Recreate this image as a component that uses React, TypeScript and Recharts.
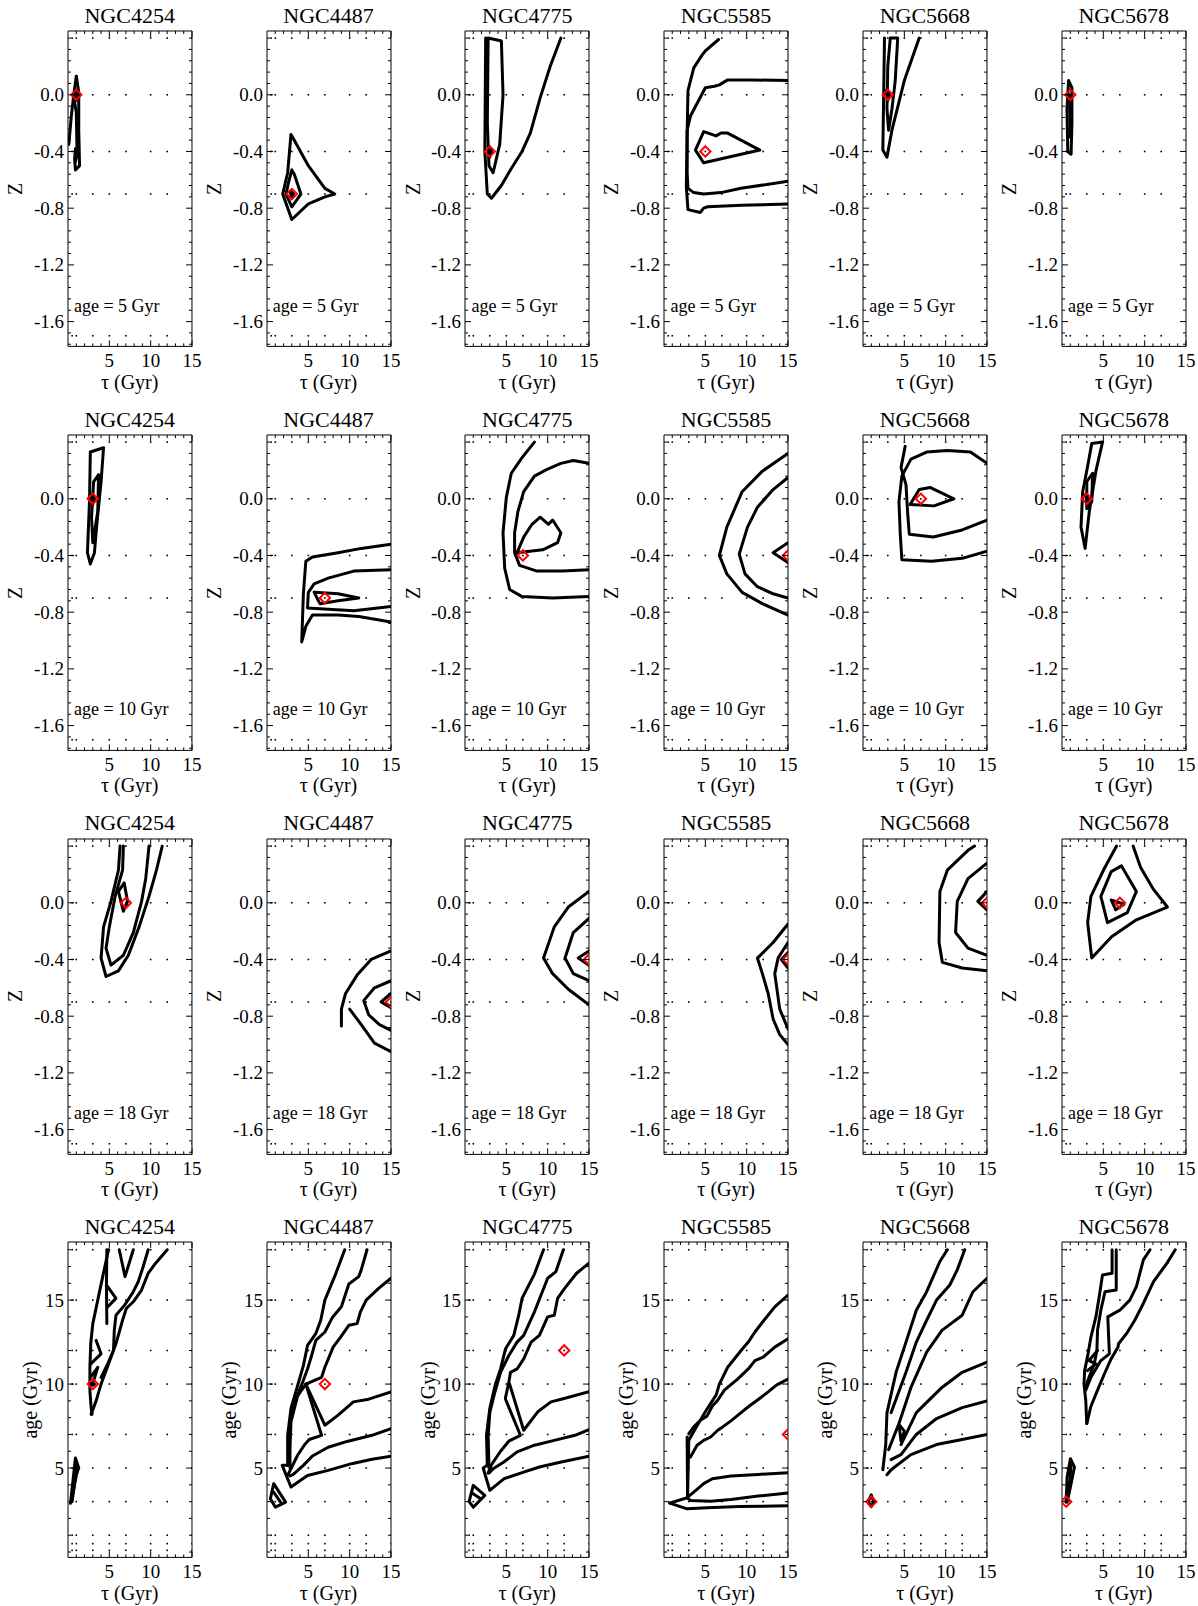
import React from 'react';
import { ScatterChart, Scatter, XAxis, YAxis } from 'recharts';

type Pt = [number, number];

const galaxies = ['NGC4254', 'NGC4487', 'NGC4775', 'NGC5585', 'NGC5668', 'NGC5678'];
const sliceNotes = ['age = 5 Gyr', 'age = 10 Gyr', 'age = 18 Gyr'];

// axis ticks
const tauTicks = [5, 10, 15];
const tauMinor = [1, 2, 3, 4, 6, 7, 8, 9, 11, 12, 13, 14];
const zTicks = [-1.6, -1.2, -0.8, -0.4, 0.0];
const zMinor = [0.4, 0.32, 0.24, 0.16, 0.08, -0.08, -0.16, -0.24, -0.32, -0.48, -0.56, -0.64, -0.72, -0.88, -0.96, -1.04, -1.12, -1.28, -1.36, -1.44, -1.52, -1.68, -1.76];
const ageTicks = [5, 10, 15];
const ageMinor = [0, 1, 2, 3, 4, 6, 7, 8, 9, 11, 12, 13, 14, 16, 17, 18];

// model grid (dotted points)
const tauGrid = [0.5, 1, 3, 5, 7, 10, 12, 15];
const zGrid = [0.4, 0.0, -0.4, -0.7, -1.7];
const ageGrid = [0.1, 0.5, 1, 3, 5, 7, 10, 12, 15, 18];

// best fits (tau, Z) per slice and (tau, age) for the bottom row
const best5: Pt[] = [[1, 0], [3, -0.7], [3, -0.4], [5, -0.4], [3, 0], [1, 0]];
const best10: Pt[] = [[3, 0], [7, -0.7], [7, -0.4], [15, -0.4], [7, 0], [3, 0]];
const best18: Pt[] = [[7, 0], [15, -0.7], [15, -0.4], [15, -0.4], [15, 0], [7, 0]];
const bestAge: Pt[] = [[3, 10], [7, 10], [12, 12], [15, 7], [1, 3], [0.5, 3]];

// ---- age = 5 Gyr contours (tau, Z)
const z5_4254: Pt[][] = [
  [[1.0, 0.13], [1.3, 0.02], [1.3, -0.25], [1.4, -0.5], [0.9, -0.53], [0.8, -0.45], [0.9, -0.38]],
  [[0.1, -0.35], [0.4, -0.15], [0.7, 0.0], [1.0, 0.13]],
  [[0.7, -0.02], [1.0, -0.12], [1.1, -0.42], [0.9, -0.47]],
  [[0.8, 0.03], [1.15, 0.0], [1.0, -0.04], [0.8, 0.03]],
];
const z5_4487: Pt[][] = [
  [[2.9, -0.28], [3.2, -0.31], [5.0, -0.5], [7.0, -0.66], [8.2, -0.7], [7.0, -0.72], [5.0, -0.77], [3.0, -0.88], [1.9, -0.7], [2.5, -0.55], [2.9, -0.28]],
  [[3.0, -0.53], [3.3, -0.56], [4.1, -0.7], [3.0, -0.79], [2.3, -0.7], [2.6, -0.62], [3.0, -0.53]],
  [[2.8, -0.68], [3.2, -0.7], [3.0, -0.73], [2.8, -0.68]],
];
const z5_4775: Pt[][] = [
  [[2.5, 0.4], [2.4, -0.4], [2.7, -0.7], [3.2, -0.73], [4.4, -0.64], [5.6, -0.52], [6.9, -0.4], [7.9, -0.27], [9.1, -0.02], [10.3, 0.2], [11.6, 0.4]],
  [[2.8, 0.4], [4.4, 0.38], [4.6, 0.0], [4.2, -0.35], [3.4, -0.55], [2.9, -0.5], [2.7, -0.2], [2.8, 0.4]],
  [[2.8, -0.36], [3.2, -0.4], [3.0, -0.44], [2.8, -0.36]],
];
const z5_5585: Pt[][] = [
  [[6.6, 0.39], [5.0, 0.31], [4.6, 0.28], [3.6, 0.19], [2.9, 0.03], [2.8, -0.27], [2.7, -0.65], [2.9, -0.81], [4.4, -0.83], [4.8, -0.8], [5.3, -0.79], [9.4, -0.78], [15, -0.77]],
  [[15, 0.1], [10.6, 0.105], [7.7, 0.105], [6.7, 0.07], [6.1, 0.06], [5.0, 0.05], [3.2, -0.15], [2.8, -0.25], [2.8, -0.55], [2.9, -0.66], [3.6, -0.69], [4.8, -0.7], [6.9, -0.69], [9.3, -0.66], [15, -0.61]],
  [[4.8, -0.26], [6.3, -0.29], [6.9, -0.27], [7.7, -0.27], [11.6, -0.39], [4.8, -0.48], [3.8, -0.39], [4.8, -0.26]],
];
const z5_5668: Pt[][] = [
  [[2.6, 0.4], [2.5, 0.0], [2.4, -0.39], [2.9, -0.44], [3.5, -0.25], [5.0, 0.1], [6.8, 0.4]],
  [[3.3, 0.4], [4.2, 0.4], [3.9, 0.1], [3.5, -0.1], [3.1, -0.25], [2.9, -0.1], [3.0, 0.2], [3.3, 0.4]],
  [[2.8, 0.03], [3.2, 0.0], [3.0, -0.04], [2.8, 0.03]],
];
const z5_5678: Pt[][] = [
  [[0.8, 0.1], [1.2, 0.05], [1.2, -0.2], [1.1, -0.42], [0.7, -0.4], [0.6, -0.1], [0.8, 0.1]],
  [[0.9, 0.0], [1.0, -0.3]],
];

// ---- age = 10 Gyr contours
const z10_4254: Pt[][] = [
  [[2.7, 0.33], [4.3, 0.36], [4.0, 0.12], [3.5, -0.17], [3.2, -0.38], [2.7, -0.46], [2.35, -0.38], [2.6, -0.02], [2.7, 0.33]],
  [[3.1, 0.12], [3.7, 0.17], [3.6, -0.09], [3.0, -0.31], [2.85, -0.13], [3.1, 0.12]],
  [[2.85, 0.03], [3.2, 0.0], [3.0, -0.04], [2.85, 0.03]],
];
const z10_4487: Pt[][] = [
  [[15, -0.32], [11.4, -0.35], [8.6, -0.38], [5.5, -0.41], [4.7, -0.44], [4.4, -0.67], [4.2, -1.01], [4.7, -0.9], [5.5, -0.82], [8.6, -0.82], [11.1, -0.83], [15, -0.87]],
  [[15, -0.5], [10.5, -0.51], [7.4, -0.56], [5.7, -0.6], [5.0, -0.66], [4.9, -0.77], [7.4, -0.78], [10.5, -0.79], [15, -0.76]],
  [[5.7, -0.66], [8.6, -0.67], [11.1, -0.7], [8.6, -0.72], [6.4, -0.74], [5.7, -0.66]],
];
const z10_4775: Pt[][] = [
  [[8.4, 0.4], [6.9, 0.29], [5.6, 0.18], [5.0, 0.01], [4.6, -0.24], [4.8, -0.49], [5.4, -0.64], [6.9, -0.69], [10.6, -0.7], [15, -0.69]],
  [[15, 0.25], [13.1, 0.27], [11.6, 0.25], [10.0, 0.21], [8.4, 0.16], [7.1, 0.05], [6.4, -0.09], [6.0, -0.24], [6.0, -0.38], [6.6, -0.47], [8.7, -0.51], [11.8, -0.51], [15, -0.5]],
  [[6.3, -0.38], [7.1, -0.27], [8.1, -0.18], [9.1, -0.13], [10.1, -0.18], [10.6, -0.15], [11.6, -0.24], [11.2, -0.31], [9.4, -0.36], [6.3, -0.38]],
];
const z10_5585: Pt[][] = [
  [[15, 0.32], [11.9, 0.195], [9.45, 0.05], [7.6, -0.2], [6.7, -0.4], [7.6, -0.53], [9.45, -0.66], [11.9, -0.74], [15, -0.82]],
  [[15, 0.15], [13.2, 0.065], [11.3, -0.06], [10.1, -0.2], [9.1, -0.39], [9.8, -0.53], [11.3, -0.62], [13.2, -0.67], [15, -0.7]],
  [[15, -0.31], [13.2, -0.38], [15, -0.45]],
];
const z10_5668: Pt[][] = [
  [[15, 0.25], [13.0, 0.33], [10.2, 0.34], [7.7, 0.33], [5.8, 0.28], [4.7, 0.16], [4.35, -0.02], [4.5, -0.24], [4.7, -0.43], [8.3, -0.44], [12.0, -0.42], [15, -0.37]],
  [[5.1, 0.37], [4.6, 0.22], [5.2, 0.1], [5.4, -0.1], [5.6, -0.25], [8.5, -0.27], [12.0, -0.22], [15, -0.15]],
  [[5.7, -0.04], [6.8, 0.065], [8.1, 0.08], [11.0, 0.0], [8.6, -0.05], [5.7, -0.04]],
];
const z10_5678: Pt[][] = [
  [[3.6, 0.39], [4.9, 0.4], [4.1, 0.195], [3.3, -0.09], [2.8, -0.35], [2.3, -0.2], [2.5, 0.05], [3.1, 0.23], [3.6, 0.39]],
  [[3.0, 0.12], [3.7, 0.18], [3.6, -0.02], [3.0, -0.07], [3.0, 0.12]],
  [[2.85, 0.03], [3.2, 0.0], [3.0, -0.04], [2.85, 0.03]],
];

// ---- age = 18 Gyr contours
const z18_4254: Pt[][] = [
  [[6.3, 0.4], [6.1, 0.23], [5.2, 0.01], [4.3, -0.17], [4.0, -0.39], [4.6, -0.52], [6.1, -0.48], [7.3, -0.37], [8.6, -0.17], [9.8, 0.045], [10.7, 0.23], [11.4, 0.4]],
  [[6.7, 0.4], [6.6, 0.23], [5.7, 0.045], [5.0, -0.17], [4.6, -0.32], [5.2, -0.44], [6.7, -0.37], [7.9, -0.21], [8.9, 0.01], [9.4, 0.17], [9.8, 0.4]],
  [[6.1, 0.08], [6.8, 0.14], [7.2, 0.01], [6.7, -0.06], [6.1, 0.08]],
];
const z18_4487: Pt[][] = [
  [[15, -0.34], [12.6, -0.4], [10.9, -0.51], [9.5, -0.64], [9.0, -0.75], [9.0, -0.87]],
  [[10.0, -0.75], [11.4, -0.86], [13.0, -0.99], [15, -1.05]],
  [[15, -0.55], [13.0, -0.6], [11.7, -0.69], [12.3, -0.79], [13.6, -0.86], [15, -0.9]],
  [[15, -0.64], [13.8, -0.7], [15, -0.74]],
];
const z18_4775: Pt[][] = [
  [[15, 0.08], [12.5, -0.03], [10.8, -0.17], [9.5, -0.39], [10.6, -0.5], [12.5, -0.61], [15, -0.72]],
  [[15, -0.11], [13.1, -0.21], [12.1, -0.39], [13.1, -0.5], [15, -0.55]],
  [[15, -0.34], [13.7, -0.39], [15, -0.44]],
];
const z18_5585: Pt[][] = [
  [[15, -0.15], [13.2, -0.28], [11.3, -0.39], [11.9, -0.5], [12.6, -0.64], [13.2, -0.82], [14.0, -0.93], [15, -1.0]],
  [[15, -0.28], [13.8, -0.39], [13.4, -0.5], [14.0, -0.75], [15, -0.89]],
  [[15, -0.35], [14.2, -0.4], [15, -0.46]],
];
const z18_5668: Pt[][] = [
  [[13.5, 0.4], [12.7, 0.37], [10.2, 0.23], [9.3, 0.08], [9.2, -0.28], [9.6, -0.42], [12.0, -0.46], [15, -0.48]],
  [[15, 0.28], [12.7, 0.17], [11.4, 0.01], [11.2, -0.21], [12.7, -0.32], [15, -0.37]],
  [[15, 0.08], [13.9, 0.01], [15, -0.05]],
];
const z18_5678: Pt[][] = [
  [[6.6, 0.4], [5.1, 0.24], [3.5, 0.045], [3.1, -0.14], [3.6, -0.39], [6.0, -0.24], [9.0, -0.12], [12.75, -0.03], [11.0, 0.1], [9.5, 0.25], [8.6, 0.4]],
  [[4.7, 0.045], [5.95, 0.22], [7.2, 0.26], [9.0, 0.08], [7.9, -0.07], [5.5, -0.14], [4.7, 0.045]],
  [[5.95, 0.02], [7.5, -0.01], [6.5, -0.05], [5.95, 0.02]],
];

// ---- bottom row (tau, age)
const ag_4254: Pt[][] = [
  [[12.0, 18.0], [10.6, 17.2], [9.7, 16.6], [8.9, 15.6], [7.9, 14.9], [7.05, 14.5], [6.6, 13.8], [6.2, 13.1], [5.8, 12.4], [5.2, 11.6], [4.6, 10.8], [4.0, 10.0], [3.4, 9.0], [2.8, 8.2]],
  [[9.7, 18.0], [9.1, 17.0], [8.5, 16.1], [7.9, 15.5], [6.85, 14.7], [5.8, 14.1], [5.6, 13.2], [5.5, 12.0], [4.8, 11.2], [4.0, 10.4]],
  [[6.2, 18.0], [6.9, 16.4], [7.9, 18.0]],
  [[4.7, 18.0], [4.65, 15.8], [4.7, 13.6]],
  [[4.8, 15.8], [5.8, 15.1], [4.8, 14.6]],
  [[4.9, 18.0], [4.2, 16.4], [3.6, 15.0], [3.0, 13.6], [2.75, 12.4], [2.65, 11.0], [2.65, 9.6], [2.8, 8.6], [2.9, 8.2]],
  [[3.4, 12.6], [4.0, 11.8], [2.75, 11.2]],
  [[2.7, 10.4], [3.6, 11.0], [3.1, 10.2]],
  [[0.3, 2.9], [0.9, 5.6], [1.3, 5.0], [0.9, 4.5], [0.5, 3.0]],
  [[0.45, 3.2], [1.0, 5.2]],
  [[0.6, 3.5], [1.1, 4.8]],
  [[2.8, 10.05], [3.2, 10.0], [3.0, 9.93], [2.8, 10.05]],
];
const ag_4487: Pt[][] = [
  [[9.4, 18.0], [8.3, 16.55], [7.0, 15.0], [6.5, 13.8], [5.9, 13.0], [4.9, 12.3], [4.4, 11.1], [3.7, 9.9], [2.9, 8.55], [2.5, 6.95], [2.5, 5.16]],
  [[12.1, 18.0], [11.4, 16.8], [11.1, 16.4], [9.9, 15.96], [9.0, 14.6], [7.9, 13.96], [7.0, 13.1], [5.9, 12.6], [5.4, 11.7], [4.9, 10.9], [4.3, 10.1], [3.5, 9.1], [2.9, 8.35], [2.7, 6.95], [2.8, 4.96]],
  [[15, 16.3], [13.5, 15.7], [12.0, 15.0], [11.3, 14.3], [10.9, 13.6], [9.9, 13.5], [8.9, 12.8], [8.0, 12.2], [7.0, 11.0], [6.6, 10.4], [4.7, 10.0], [3.7, 9.3], [2.9, 7.75], [2.7, 5.16]],
  [[4.7, 10.0], [6.6, 6.95], [5.1, 6.7], [4.5, 6.36], [3.7, 5.76], [2.9, 4.96], [2.5, 4.56]],
  [[4.7, 10.0], [7.0, 7.55], [8.6, 8.15], [10.45, 8.94], [12.3, 9.1], [15, 9.54]],
  [[15, 7.35], [12.7, 6.95], [9.8, 6.6], [7.4, 6.24], [5.5, 5.72], [4.4, 5.16], [3.1, 4.6], [2.8, 4.53]],
  [[15, 5.7], [12.7, 5.52], [10.25, 5.26], [7.4, 4.86], [4.9, 4.56], [2.9, 3.87], [1.84, 5.16], [2.5, 5.16]],
  [[0.41, 3.17], [0.81, 4.07], [2.25, 2.97], [1.02, 2.67], [0.41, 3.17]],
  [[0.8, 3.57], [1.64, 2.97]],
];
const ag_4775: Pt[][] = [
  [[9.5, 18.0], [8.4, 16.55], [6.9, 15.1], [6.5, 14.1], [5.9, 12.9], [4.9, 12.1], [4.3, 10.9], [3.65, 9.94], [3.0, 8.55], [2.6, 6.95], [2.7, 5.16]],
  [[11.9, 18.0], [11.0, 16.7], [10.0, 16.3], [9.2, 15.3], [8.4, 14.3], [7.1, 12.9], [6.3, 12.5], [5.3, 11.7], [4.3, 10.7], [3.6, 9.5], [3.0, 8.3], [2.8, 6.9], [2.9, 5.0]],
  [[15, 17.2], [13.5, 16.6], [12.05, 15.7], [11.2, 15.1], [10.8, 14.1], [10.0, 14.0], [9.0, 12.9], [8.0, 12.5], [7.1, 11.5], [6.3, 10.9], [5.5, 10.7], [5.3, 10.1], [4.9, 9.2]],
  [[4.9, 9.1], [6.7, 6.95], [5.3, 6.6], [4.3, 6.0], [3.2, 5.2], [2.8, 4.7]],
  [[5.4, 10.0], [7.1, 7.25], [8.8, 8.35], [10.4, 8.94], [11.65, 9.1], [15, 9.54]],
  [[15, 7.29], [13.3, 6.95], [10.8, 6.65], [8.4, 6.36], [6.3, 5.96], [4.7, 5.36], [3.4, 4.96], [2.95, 4.72]],
  [[15, 5.7], [11.65, 5.36], [9.0, 5.06], [7.1, 4.76], [4.7, 4.36], [3.0, 3.67], [2.2, 5.0], [2.7, 5.16]],
  [[0.5, 3.0], [1.0, 3.97], [2.4, 3.37], [1.0, 2.67], [0.5, 3.0]],
  [[0.9, 3.5], [1.8, 3.2]],
];
const ag_5585: Pt[][] = [
  [[15, 15.3], [13.4, 14.6], [12.1, 13.8], [11.0, 13.1], [10.2, 12.5], [9.5, 12.1], [7.7, 11.0], [6.7, 10.0], [6.3, 9.34], [5.65, 8.85], [5.0, 8.35], [3.8, 7.35], [3.0, 6.65], [2.85, 3.27]],
  [[15, 12.7], [13.4, 12.2], [12.0, 11.6], [11.0, 11.4], [10.2, 10.9], [8.9, 10.3], [7.3, 9.64], [6.5, 9.04], [5.85, 8.69], [5.2, 8.09], [4.4, 7.85], [3.6, 7.45], [3.0, 7.05]],
  [[15, 10.3], [13.6, 9.94], [12.6, 9.54], [11.4, 9.08], [10.2, 8.65], [9.1, 8.21], [8.1, 7.81], [7.1, 7.45], [6.5, 7.25], [5.65, 6.85], [4.8, 6.65], [4.0, 6.36], [3.2, 5.66]],
  [[2.8, 6.85], [2.85, 3.27], [3.6, 3.57], [4.8, 4.07], [5.85, 4.36], [8.1, 4.53], [11.4, 4.62], [15, 4.72]],
  [[0.7, 2.91], [2.8, 3.23], [3.2, 3.07], [5.65, 3.03], [8.1, 3.13], [11.4, 3.33], [15, 3.51]],
  [[0.7, 2.91], [2.8, 2.57], [5.2, 2.63], [9.1, 2.71], [15, 2.75]],
];
const ag_5668: Pt[][] = [
  [[10.2, 18.0], [9.3, 17.3], [7.7, 15.5], [6.45, 14.4], [5.2, 12.5], [4.0, 10.7], [2.9, 8.3], [2.75, 6.4], [2.4, 4.9]],
  [[12.3, 18.0], [11.4, 16.8], [10.5, 15.9], [8.9, 15.0], [7.7, 13.8], [6.45, 12.5], [5.2, 10.7], [3.4, 8.3]],
  [[15, 16.3], [13.3, 15.5], [12.0, 14.1], [9.55, 13.2], [7.7, 11.9], [5.8, 9.8], [4.35, 7.65], [3.1, 6.1]],
  [[15, 11.3], [12.0, 10.7], [9.55, 9.8], [6.45, 8.3], [4.6, 6.4]],
  [[15, 9.0], [12.0, 8.6], [8.9, 7.95], [6.45, 7.0], [4.6, 5.8], [3.4, 5.5]],
  [[15, 7.0], [12.0, 6.7], [8.9, 6.4], [5.8, 5.8], [3.4, 4.9], [2.9, 4.6]],
  [[4.35, 7.6], [5.0, 7.2], [4.6, 6.6], [4.35, 7.6]],
  [[0.6, 3.0], [1.0, 3.4], [1.3, 3.0], [1.0, 2.7], [0.6, 3.0]],
];
const ag_5678: Pt[][] = [
  [[6.06, 18.0], [6.06, 16.6], [4.9, 16.5], [4.5, 15.2], [4.1, 14.0], [3.5, 12.8], [3.15, 11.8], [2.74, 10.8], [2.66, 10.0], [2.87, 9.04], [3.0, 7.65]],
  [[6.56, 18.0], [6.56, 15.6], [5.2, 15.5], [4.7, 14.4], [4.3, 13.2], [4.22, 12.0], [3.9, 11.2], [3.27, 10.4], [2.87, 9.84]],
  [[10.65, 18.0], [9.84, 17.4], [9.0, 15.8], [8.2, 15.0], [7.0, 14.4], [5.54, 14.0], [5.73, 11.8], [4.7, 11.4], [3.5, 10.4], [2.87, 9.64]],
  [[13.7, 18.0], [12.7, 17.2], [11.07, 16.1], [9.84, 14.8], [8.8, 13.8], [7.8, 13.0], [6.84, 12.4], [6.77, 12.2], [5.94, 11.5], [5.12, 10.6], [4.3, 9.64], [3.48, 8.65], [3.0, 7.65]],
  [[4.3, 12.0], [3.27, 11.4], [4.1, 11.2], [3.08, 10.8]],
  [[0.49, 2.97], [0.62, 4.46], [1.02, 5.56], [1.51, 5.06], [1.02, 3.87], [0.62, 2.97]],
  [[0.81, 3.47], [1.11, 5.26]],
];

const rowLines: Pt[][][][] = [
  [z5_4254, z5_4487, z5_4775, z5_5585, z5_5668, z5_5678],
  [z10_4254, z10_4487, z10_4775, z10_5585, z10_5668, z10_5678],
  [z18_4254, z18_4487, z18_4775, z18_5585, z18_5668, z18_5678],
  [ag_4254, ag_4487, ag_4775, ag_5585, ag_5668, ag_5678],
];
const rowBest: Pt[][] = [best5, best10, best18, bestAge];

const SERIF = '"Liberation Serif", "Times New Roman", serif';
const TAU_DOMAIN: [number, number] = [0, 15];
const Z_DOMAIN: [number, number] = [-1.775, 0.45];
const AGE_DOMAIN: [number, number] = [-0.32, 18.46];

const FRAME_W = 124;
const FRAME_H = 315.4;
// plot area starts at (66, 31) inside each panel box; the axes take 1px each
const M = { top: 30, left: 65, right: 9, bottom: 45 };
const PLOT_L = M.left + 1;
const PLOT_T = M.top + 1;
const PLOT_R = PLOT_L + FRAME_W;
const PLOT_B = PLOT_T + FRAME_H;
const CW = PLOT_R + 1 + M.right;
const CH = PLOT_B + 1 + M.bottom;
const COL_STEP = 198.8;
const ROW_STEP = 403.7;

const noShape = () => <g />;
const dotShape = (p: any) => <rect x={p.cx - 0.8} y={p.cy - 0.8} width={1.6} height={1.6} fill="#000" />;
const diamondShape = (p: any) => {
  const r = 5.2;
  return (
    <polygon
      points={`${p.cx},${p.cy - r} ${p.cx + r},${p.cy} ${p.cx},${p.cy + r} ${p.cx - r},${p.cy}`}
      fill="none"
      stroke="#ff0000"
      strokeWidth={2}
    />
  );
};

const axisStroke = { stroke: '#000', strokeWidth: 1 };
const labelStyle = { fill: '#000', fontSize: 19, fontFamily: SERIF };

// inward ticks on the frame edge; the position along the edge comes from the axis scale
function makeTick(side: 'b' | 't' | 'l' | 'r', majors: number[], fmt?: (v: number) => string) {
  return (p: any) => {
    const v = p.payload.value;
    const major = majors.includes(v);
    const len = major ? 6 : 3;
    const { x, y } = p;
    let line;
    let label = null;
    if (side === 'b') {
      line = <line x1={x} x2={x} y1={PLOT_B} y2={PLOT_B - len} stroke="#000" />;
      if (major && fmt) label = <text x={x} y={PLOT_B + 21} textAnchor="middle" {...labelStyle}>{fmt(v)}</text>;
    } else if (side === 't') {
      line = <line x1={x} x2={x} y1={PLOT_T} y2={PLOT_T + len} stroke="#000" />;
    } else if (side === 'l') {
      line = <line x1={PLOT_L} x2={PLOT_L + len} y1={y} y2={y} stroke="#000" />;
      if (major && fmt) label = <text x={PLOT_L - 4} y={y + 6.5} textAnchor="end" {...labelStyle}>{fmt(v)}</text>;
    } else {
      line = <line x1={PLOT_R} x2={PLOT_R - len} y1={y} y2={y} stroke="#000" />;
    }
    return <g>{line}{label}</g>;
  };
}

function Panel({ row, col }: { row: number; col: number }) {
  const isAge = row === 3;
  const yDomain = isAge ? AGE_DOMAIN : Z_DOMAIN;
  const yTicks = isAge ? ageTicks : zTicks;
  const yAll = isAge ? [...ageTicks, ...ageMinor] : [...zTicks, ...zMinor];
  const xAll = [...tauTicks, ...tauMinor];
  const yGrid = isAge ? ageGrid : zGrid;
  const grid = tauGrid.flatMap((t) => yGrid.map((v) => ({ x: t, y: v })));
  const lines = rowLines[row][col];
  const best = rowBest[row][col];
  const left = 67.7 + col * COL_STEP - PLOT_L;
  const top = 31.3 + row * ROW_STEP - PLOT_T;
  const yFmt = (v: number) => (isAge ? String(v) : v.toFixed(1));

  return (
    <div style={{ position: 'absolute', left, top, width: CW, height: CH }}>
      <ScatterChart width={CW} height={CH} margin={M}>
        <XAxis xAxisId="b" type="number" dataKey="x" domain={TAU_DOMAIN} allowDataOverflow ticks={xAll} interval={0}
          height={1} tickLine={false} tickSize={0} tickMargin={0} axisLine={axisStroke}
          tick={makeTick('b', tauTicks, (v) => String(v))} />
        <XAxis xAxisId="t" orientation="top" type="number" dataKey="x" domain={TAU_DOMAIN} allowDataOverflow ticks={xAll} interval={0}
          height={1} tickLine={false} tickSize={0} tickMargin={0} axisLine={axisStroke}
          tick={makeTick('t', tauTicks)} />
        <YAxis yAxisId="l" type="number" dataKey="y" domain={yDomain} allowDataOverflow ticks={yAll} interval={0}
          width={1} tickLine={false} tickSize={0} tickMargin={0} axisLine={axisStroke}
          tick={makeTick('l', yTicks, yFmt)} />
        <YAxis yAxisId="r" orientation="right" type="number" dataKey="y" domain={yDomain} allowDataOverflow ticks={yAll} interval={0}
          width={1} tickLine={false} tickSize={0} tickMargin={0} axisLine={axisStroke}
          tick={makeTick('r', yTicks)} />

        <Scatter xAxisId="t" yAxisId="r" data={grid} shape={dotShape} isAnimationActive={false} />
        {lines.map((ln, i) => (
          <Scatter
            key={i}
            xAxisId="b"
            yAxisId="l"
            data={ln.map(([x, y]) => ({ x, y }))}
            line={{ stroke: '#000', strokeWidth: 3, strokeLinejoin: 'round', strokeLinecap: 'round' }}
            shape={noShape}
            isAnimationActive={false}
          />
        ))}
        <Scatter xAxisId="b" yAxisId="l" data={[{ x: best[0], y: best[1] }]} shape={diamondShape} isAnimationActive={false} />
      </ScatterChart>

      <div style={{ position: 'absolute', left: PLOT_L, top: 4.6, width: FRAME_W, textAlign: 'center', fontSize: 22, lineHeight: '22px', fontFamily: SERIF, whiteSpace: 'nowrap' }}>
        {galaxies[col]}
      </div>
      <div style={{ position: 'absolute', left: PLOT_L, top: PLOT_B + 25, width: FRAME_W, textAlign: 'center', fontSize: 20, lineHeight: '20px', fontFamily: SERIF, whiteSpace: 'nowrap' }}>
        τ (Gyr)
      </div>
      <div style={{ position: 'absolute', left: isAge ? PLOT_L - 37.7 : PLOT_L - 52.7, top: PLOT_T + FRAME_H / 2, transform: 'translate(-50%, -50%) rotate(-90deg)', fontSize: 20, lineHeight: '20px', fontFamily: SERIF, whiteSpace: 'nowrap' }}>
        {isAge ? 'age (Gyr)' : 'Z'}
      </div>
      {!isAge && (
        <div style={{ position: 'absolute', left: PLOT_L + 6.3, top: PLOT_B - 50, fontSize: 18, lineHeight: '18px', fontFamily: SERIF, whiteSpace: 'nowrap' }}>
          {sliceNotes[row]}
        </div>
      )}
    </div>
  );
}

export default function App() {
  const cells = [];
  for (let r = 0; r < 4; r++) for (let c = 0; c < 6; c++) cells.push(<Panel key={`${r}-${c}`} row={r} col={c} />);
  return (
    <div style={{ position: 'absolute', left: 0, top: 0, width: 1198, height: 1606, background: '#fff', overflow: 'hidden' }}>
      {cells}
    </div>
  );
}
